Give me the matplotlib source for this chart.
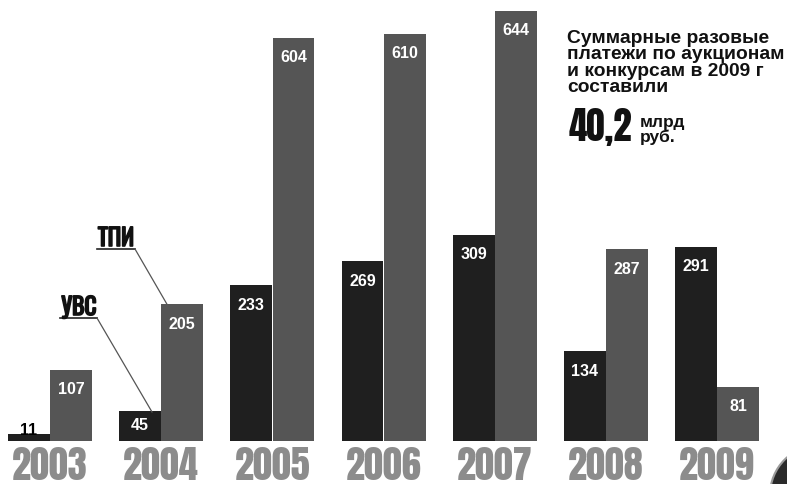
import matplotlib
matplotlib.use("Agg")
import matplotlib.pyplot as plt
import matplotlib.patheffects as pe
from matplotlib.patches import Ellipse
import numpy as np

years = ["2003", "2004", "2005", "2006", "2007", "2008", "2009"]
uvs = [11, 45, 233, 269, 309, 134, 291]
tpi = [107, 205, 604, 610, 644, 287, 81]

W, H = 787, 484
fig = plt.figure(figsize=(W / 100, H / 100), dpi=100)
ax = fig.add_axes([0, 0, 1, 1])

# group spacing 111 px, bar width 41 px, 1 value ~ 0.668 px
ax.set_xlim(-50 / 111.2, (W - 50) / 111.2)
ax.set_ylim(-43 / 0.668, (H - 43) / 0.668)
ax.axis("off")

heavy = ["Anton", "Oswald", "DejaVu Sans"]
sans = ["Liberation Sans", "DejaVu Sans"]

x = np.arange(len(years))
bw = 0.375
off = 0.19
dark = "#1f1f1f"
grey = "#555555"

ax.bar(x - off, uvs, bw, color=dark, zorder=2)
ax.bar(x + off, tpi, bw, color=grey, zorder=2)

unit = 1 / 0.668
for xi, v in zip(x - off, uvs):
    if v < 20:
        ax.text(xi, v + 3 * unit, str(v), ha="center", va="center", color="black",
                fontsize=11.5, fontweight="bold", family=sans, zorder=3)
    else:
        ax.text(xi, v - min(20 * unit, v / 2), str(v), ha="center", va="center",
                color="white", fontsize=11.5, fontweight="bold", family=sans, zorder=3)
for xi, v in zip(x + off, tpi):
    ax.text(xi, v - min(20 * unit, v / 2), str(v), ha="center", va="center",
            color="white", fontsize=11.5, fontweight="bold", family=sans, zorder=3)

for xi, y in zip(x, years):
    ax.text(xi, -39 * unit, y, ha="center", va="baseline", color="#8c8c8c",
            fontsize=27.5, family=heavy)


def px(px_x, px_y):
    return px_x / W, 1 - px_y / H


# series callouts
thick = [pe.withStroke(linewidth=1.2, foreground="#111111")]
for name, tx, ty, ux0, ux1, end in [("ТПИ", 116, 246, 97, 135, (168, 306)),
                                    ("УВС", 79, 315, 60, 97, (152, 412))]:
    fig.text(*px(tx, ty), name, ha="center", va="baseline", color="#111111",
             fontsize=17, fontweight="bold", family=heavy, path_effects=thick)
    fig.add_artist(plt.Line2D([ux0 / W, ux1 / W], [1 - (ty + 3) / H] * 2,
                              color="#222222", lw=1.2, transform=fig.transFigure))
    fig.add_artist(plt.Line2D([ux1 / W, end[0] / W],
                              [1 - (ty + 3) / H, 1 - end[1] / H],
                              color="#555555", lw=0.9, transform=fig.transFigure))

fig.text(*px(567, 30), "Суммарные разовые\nплатежи по аукционам\nи конкурсам в 2009 г\nсоставили",
         ha="left", va="top", color="#111111", fontsize=13.9, fontweight="bold",
         family=sans, linespacing=0.95)
fig.text(*px(569, 141), "40,2", ha="left", va="baseline", color="#111111",
         fontsize=26.5, family=heavy)
fig.text(*px(640, 127), "млрд", ha="left", va="baseline", color="#111111",
         fontsize=12.5, fontweight="bold", family=sans)
fig.text(*px(640, 142), "руб.", ha="left", va="baseline", color="#111111",
         fontsize=12.5, fontweight="bold", family=sans)

# corner emblem
fig.add_artist(Ellipse(px(820, 495), 100 / W, 100 / H, facecolor="#2a2a2a",
                       edgecolor="#9a9a9a", lw=1.5, transform=fig.transFigure))

fig.savefig("out.png", dpi=100, facecolor="white")
